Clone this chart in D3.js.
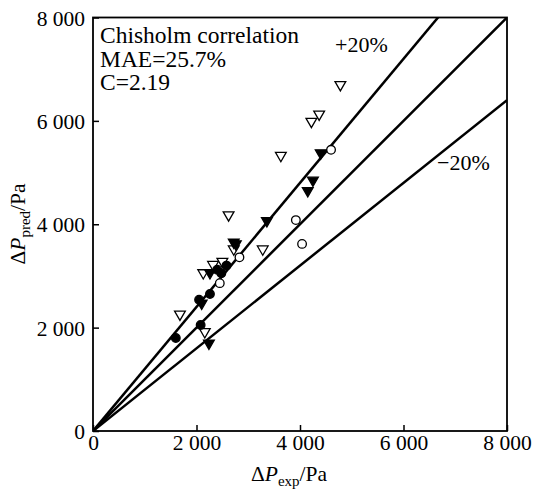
<!DOCTYPE html>
<html><head><meta charset="utf-8">
<script src="https://cdn.jsdelivr.net/npm/d3@7"></script>
<style>body{margin:0;background:#fff}svg{display:block}text{font-family:"Liberation Serif","Times New Roman",serif;fill:#000}</style>
</head><body><svg id="c" width="535" height="493"></svg>
<script>
const xTicks = [0, 2000, 4000, 6000, 8000];
const yTicks = [0, 2000, 4000, 6000, 8000];
const refSlopes = [1.2, 1.0, 0.8];
// [ΔP_exp, ΔP_pred]
const filledCircles = [[1600,1800],[2080,2050],[2050,2540],[2260,2650],[2480,3050],[2580,3200],[2400,3120]];
const openCircles = [[2450,2860],[2830,3360],[3920,4080],[4040,3620],[4600,5440]];
const filledTriangles = [[2240,1700],[2100,2470],[2260,3060],[2760,3620],[3360,4070],[4150,4650],[4250,4850],[4400,5380],[2720,3650]];
const openTriangles = [[1680,2260],[2160,1920],[2130,3060],[2320,3220],[2500,3280],[2720,3520],[3280,3520],[2620,4180],[3630,5330],[4220,5990],[4370,6130],[4780,6700]];

const svg = d3.select('#c');
const m = {l:93, r:507, t:17.5, b:431};
const x = d3.scaleLinear().domain([0,8000]).range([m.l, m.r]);
const y = d3.scaleLinear().domain([0,8000]).range([m.b, m.t]);
const fmt2 = d => d === 0 ? '0' : (Math.floor(d/1000)) + ' 000';

svg.append('clipPath').attr('id','pc').append('rect')
  .attr('x', m.l).attr('y', m.t).attr('width', m.r-m.l).attr('height', m.b-m.t);
svg.append('g').attr('clip-path','url(#pc)').selectAll('line').data(refSlopes).join('line')
  .attr('x1', x(0)).attr('y1', y(0))
  .attr('x2', x(8000)).attr('y2', s => y(8000*s))
  .attr('stroke','#000').attr('stroke-width',2.5);

const xa = svg.append('g').attr('transform',`translate(0,${m.b})`)
  .call(d3.axisBottom(x).tickValues(xTicks).tickSizeInner(-6).tickSizeOuter(0).tickPadding(3).tickFormat(fmt2));
const ya = svg.append('g').attr('transform',`translate(${m.l},0)`)
  .call(d3.axisLeft(y).tickValues(yTicks).tickSizeInner(-6).tickSizeOuter(0).tickPadding(8).tickFormat(fmt2));
[xa, ya].forEach(a => {
  a.select('.domain').remove();
  a.selectAll('.tick line').attr('stroke','#000').attr('stroke-width',1.5);
  a.selectAll('.tick text').attr('font-size',21.5).attr('font-family','"Liberation Serif",serif').attr('fill','#000');
});
xa.selectAll('.tick text').attr('dy','0.75em');
ya.selectAll('.tick text').attr('dy','0.35em');
svg.append('rect').attr('x',m.l).attr('y',m.t).attr('width',m.r-m.l).attr('height',m.b-m.t)
  .attr('fill','none').attr('stroke','#000').attr('stroke-width',1.8);

const tri = d3.symbol().type(d3.symbolTriangle).size(50);
function drawTri(data, fill) {
  svg.append('g').selectAll('path').data(data).join('path')
    .attr('d', tri)
    .attr('transform', d => `translate(${x(d[0])},${y(d[1])}) rotate(180)`)
    .attr('fill', fill ? '#000' : '#fff').attr('stroke','#000').attr('stroke-width',1.3);
}
function drawCirc(data, fill) {
  svg.append('g').selectAll('circle').data(data).join('circle')
    .attr('cx', d => x(d[0])).attr('cy', d => y(d[1])).attr('r', 4.3)
    .attr('fill', fill ? '#000' : '#fff').attr('stroke','#000').attr('stroke-width',1.3);
}
drawTri(openTriangles, false);
drawCirc(openCircles, false);
drawTri(filledTriangles, true);
drawCirc(filledCircles, true);

const ann = ['Chisholm correlation','MAE=25.7%','C=2.19'];
svg.append('g').selectAll('text').data(ann).join('text')
  .attr('x', 100).attr('y', (d,i) => 43 + i*23.5).attr('font-size',23.5).text(d=>d);
svg.append('text').attr('x',335).attr('y',52).attr('font-size',22).text('+20%');
svg.append('text').attr('x',437).attr('y',170).attr('font-size',22).text('\u221220%');

const xt = svg.append('text').attr('x',289).attr('y',481).attr('text-anchor','middle').attr('font-size',21.5);
xt.append('tspan').text('\u0394');
xt.append('tspan').attr('font-style','italic').text('P');
xt.append('tspan').attr('font-size',15).attr('dy',5).text('exp');
xt.append('tspan').attr('dy',-5).text('/Pa');
const yt = svg.append('text').attr('transform','translate(25,224) rotate(-90)').attr('text-anchor','middle').attr('font-size',21.5);
yt.append('tspan').text('\u0394');
yt.append('tspan').attr('font-style','italic').text('P');
yt.append('tspan').attr('font-size',15).attr('dy',5).text('pred');
yt.append('tspan').attr('dy',-5).text('/Pa');
</script></body></html>
